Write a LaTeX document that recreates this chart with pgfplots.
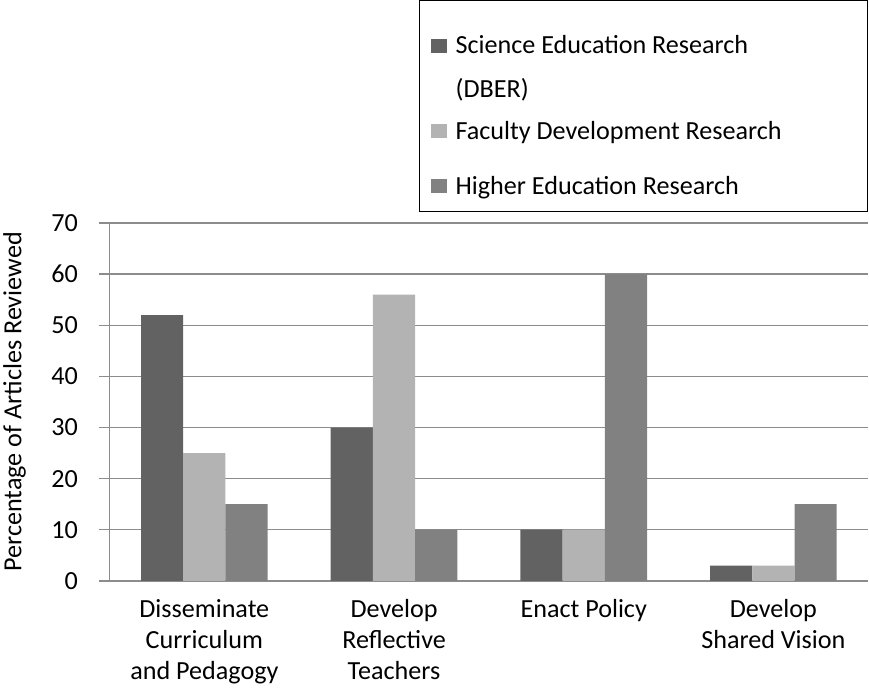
\documentclass[border=0pt]{standalone}
\usepackage{fontspec}
\setmainfont{Carlito}
\usepackage{pgfplots}
\pgfplotsset{compat=1.18}
\definecolor{cA}{RGB}{98,98,98}
\definecolor{cB}{RGB}{179,179,179}
\definecolor{cC}{RGB}{128,129,128}
\definecolor{gridc}{RGB}{140,140,140}
\begin{document}
\begin{tikzpicture}
\begin{axis}[
  scale only axis, width=755pt, height=356pt,
  ybar=0pt, bar width=42pt,
  xmin=-0.5, xmax=3.5, ymin=0, ymax=70,
  ytick={0,10,...,70},
  xtick={0,1,2,3},
  xticklabels={{Disseminate\\Curriculum\\and Pedagogy},{Develop\\Reflective\\Teachers},{Enact Policy},{Develop\\Shared Vision}},
  /pgf/number format/assume math mode=true,
  xticklabel style={align=center, font=\fontsize{26}{31}\selectfont, yshift=-5pt, anchor=north},
  yticklabel style={font=\fontsize{26}{30}\selectfont, xshift=-18pt},
  xtick style={draw=none},
  ytick style={draw=gridc, line width=1.5pt},
  tick align=outside, major tick length=10pt,
  axis x line*=bottom, axis y line*=left,
  axis line style={-, draw=gridc, line width=1.5pt},
  ymajorgrids, grid style={draw=gridc, line width=1.5pt},
  ylabel={Percentage of Articles Reviewed},
  ylabel style={font=\fontsize{26}{30}\selectfont, at={(axis description cs:-0.125,0.5)}, anchor=center},
  legend style={at={(axis description cs:1,1.6236)}, anchor=north east,
    draw=black, line width=1.2pt, inner xsep=12pt, inner ysep=16pt,
    font=\fontsize{26}{30}\selectfont, cells={anchor=base west},
    nodes={inner sep=0pt}, column sep=9pt, row sep=0pt},
  legend image code/.code={\fill[#1] (0pt,1pt) rectangle (15pt,15pt);},
]
\addplot[fill=cA, draw=none, bar shift=-42pt, forget plot] coordinates {(0,52) (1,30) (2,10) (3,3)};
\addplot[fill=cB, draw=none, bar shift=0pt, forget plot] coordinates {(0,25) (1,56) (2,10) (3,3)};
\addplot[fill=cC, draw=none, bar shift=42pt, forget plot] coordinates {(0,15) (1,10) (2,60) (3,15)};
\addlegendimage{fill=cA, draw=none}
\addlegendentry{\rule{0pt}{37pt}\makebox[398pt][l]{Science Education Research}}
\addlegendimage{empty legend}
\addlegendentry{\rule{0pt}{42pt}(DBER)}
\addlegendimage{fill=cB, draw=none}
\addlegendentry{\rule{0pt}{40pt}Faculty Development Research}
\addlegendimage{fill=cC, draw=none}
\addlegendentry{\rule{0pt}{53pt}Higher Education Research}
\end{axis}
\end{tikzpicture}
\end{document}
